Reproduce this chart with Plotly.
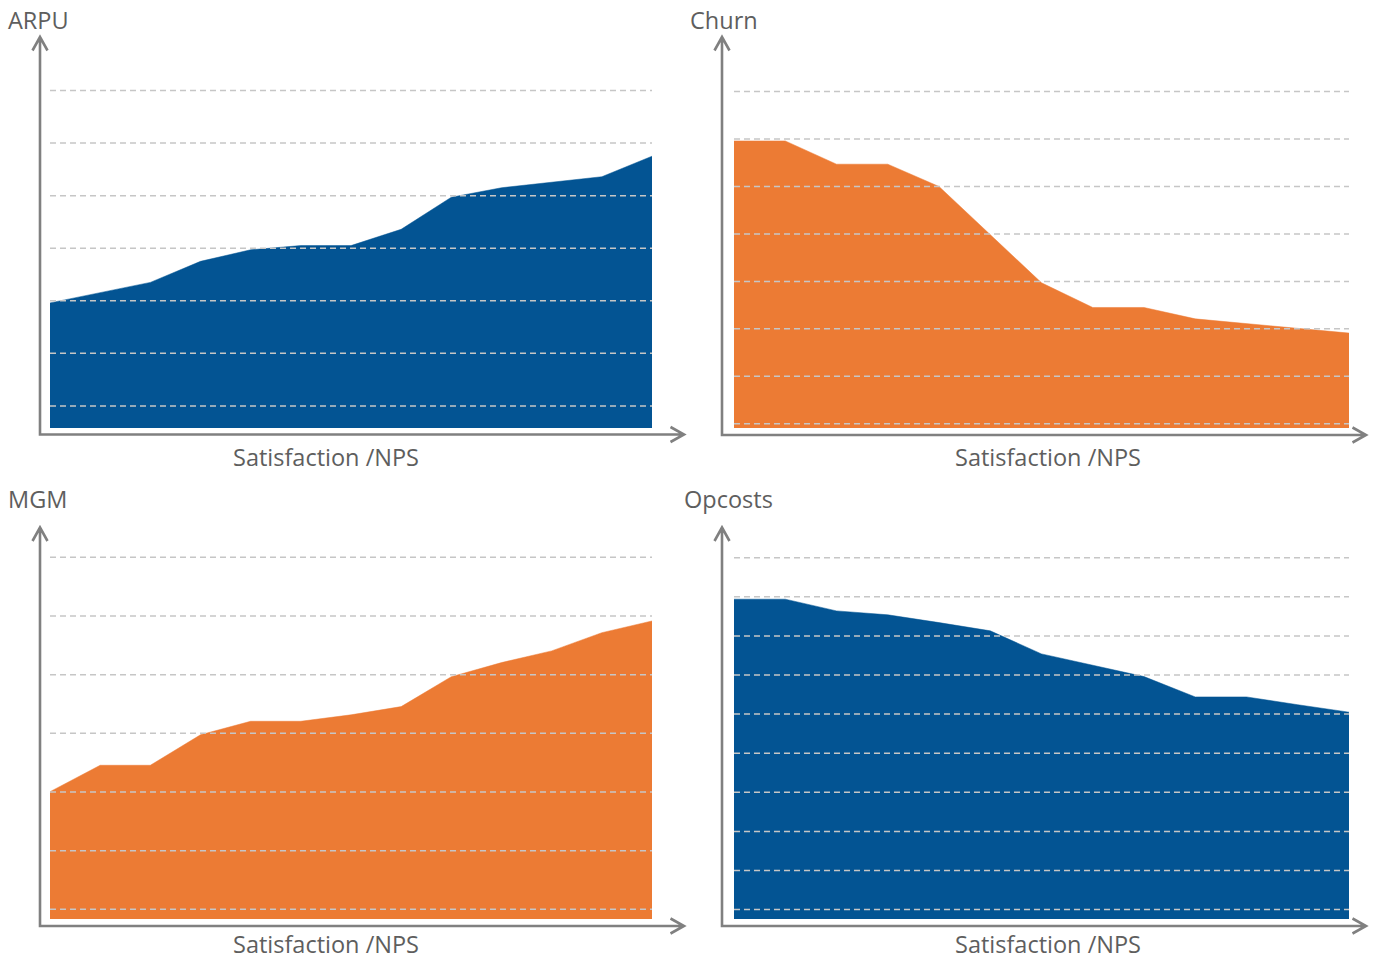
import plotly.graph_objects as go

# ---------------- data ----------------
x_points = list(range(13))  # satisfaction / NPS steps

arpu_values = [23.8, 25.7, 27.7, 31.7, 33.9, 34.7, 34.7, 37.8, 43.9, 45.7, 46.7, 47.8, 51.7]
churn_values = [60.5, 60.5, 55.6, 55.6, 50.9, 40.7, 30.6, 25.4, 25.4, 23.0, 22.0, 21.0, 20.0]
mgm_values = [21.7, 26.2, 26.2, 31.4, 33.7, 33.7, 34.8, 36.2, 41.3, 43.7, 45.7, 48.8, 50.8]
opcosts_values = [81.8, 81.8, 78.8, 77.8, 75.8, 73.7, 67.8, 64.9, 62.0, 56.8, 56.8, 54.8, 52.9]

arpu_grid = [4.2, 14.2, 24.2, 34.2, 44.2, 54.2, 64.2]
churn_grid = [0.9, 10.9, 20.9, 30.9, 40.9, 50.9, 60.9, 70.9]
mgm_grid = [1.65, 11.65, 21.65, 31.65, 41.65, 51.65, 61.65]
opcosts_grid = [2.4, 12.4, 22.4, 32.4, 42.4, 52.4, 62.4, 72.4, 82.4, 92.4]

titles = ["ARPU", "Churn", "MGM", "Opcosts"]
x_label = "Satisfaction /NPS"

BLUE = "#035493"
ORANGE = "#EC7B34"
AXIS = "#808080"
GRID = "#c6c6c6"
TEXT = "#5e5e5e"
FONT = "Open Sans"
FS = 23.5

W, H = 1381, 960

# panel geometry in pixels
panels = [
    dict(name=titles[0], vals=arpu_values, grid=arpu_grid, color=BLUE,
         yax_x=40, xax_y=434.5, ytip=37, xtip=684, left=50, right=652, base=428, ppu=5.257,
         title_pos=(6, 20), xlab_pos=(325.5, 457)),
    dict(name=titles[1], vals=churn_values, grid=churn_grid, color=ORANGE,
         yax_x=722, xax_y=435, ytip=37, xtip=1366, left=734, right=1349, base=428, ppu=4.745,
         title_pos=(688, 20), xlab_pos=(1048, 457)),
    dict(name=titles[2], vals=mgm_values, grid=mgm_grid, color=ORANGE,
         yax_x=40, xax_y=926, ytip=527.5, xtip=684, left=50, right=652, base=919, ppu=5.867,
         title_pos=(6, 499), xlab_pos=(325.5, 944)),
    dict(name=titles[3], vals=opcosts_values, grid=opcosts_grid, color=BLUE,
         yax_x=722, xax_y=926, ytip=527.5, xtip=1366, left=734, right=1349, base=919, ppu=3.91,
         title_pos=(682, 499), xlab_pos=(1048, 944)),
]

CHEV_HALF = 7.5   # chevron half width (px)
CHEV_LEN = 13.5   # chevron length (px)

fig = go.Figure()
layout = dict(
    width=W, height=H,
    margin=dict(l=0, r=0, t=0, b=0),
    paper_bgcolor="white", plot_bgcolor="rgba(0,0,0,0)",
    showlegend=False,
    font=dict(family=FONT, color=TEXT, size=FS),
)
annotations = []
shapes = []

for i, p in enumerate(panels):
    suffix = "" if i == 0 else str(i + 1)
    xa, ya = "x" + suffix, "y" + suffix
    n = len(x_points) - 1
    xppu = (p["right"] - p["left"]) / n
    xr = [-(p["left"] - p["yax_x"]) / xppu, n + (p["xtip"] - p["right"]) / xppu]
    yr = [-(p["xax_y"] - p["base"]) / p["ppu"], (p["base"] - p["ytip"]) / p["ppu"]]
    axis_common = dict(showgrid=False, zeroline=False, showticklabels=False,
                       showline=False, ticks="", fixedrange=True)
    layout["xaxis" + suffix] = dict(domain=[p["yax_x"] / W, p["xtip"] / W], range=xr,
                                    anchor=ya, **axis_common)
    layout["yaxis" + suffix] = dict(domain=[1 - p["xax_y"] / H, 1 - p["ytip"] / H], range=yr,
                                    anchor=xa, **axis_common)

    fig.add_trace(go.Scatter(
        x=x_points, y=p["vals"], mode="lines", fill="tozeroy",
        fillcolor=p["color"], line=dict(color=p["color"], width=0.5),
        xaxis=xa, yaxis=ya, hoverinfo="skip"))

    for g in p["grid"]:
        shapes.append(dict(type="line", xref=xa, yref=ya, x0=x_points[0], x1=x_points[-1],
                           y0=g, y1=g, layer="above",
                           line=dict(color=GRID, width=1.5, dash="6px,4px")))

    # axes with open chevron arrowheads, drawn in pixels from the origin corner
    h = p["xax_y"] - p["ytip"]
    w = p["xtip"] - p["yax_x"]
    path = (f"M{-CHEV_HALF},{h - CHEV_LEN} L0,{h} L{CHEV_HALF},{h - CHEV_LEN} "
            f"M0,{h} L0,0 L{w},0 "
            f"M{w - CHEV_LEN},{CHEV_HALF} L{w},0 L{w - CHEV_LEN},{-CHEV_HALF}")
    shapes.append(dict(type="path", xref=xa + " domain", yref=ya + " domain",
                       xsizemode="pixel", ysizemode="pixel", xanchor=0, yanchor=0,
                       path=path, layer="above",
                       line=dict(color=AXIS, width=2.6)))

    # title and axis label
    tx, ty = p["title_pos"]
    annotations.append(dict(xref="paper", yref="paper", x=tx / W, y=1 - ty / H,
                            xanchor="left", yanchor="middle", text=p["name"], showarrow=False,
                            font=dict(family=FONT, size=FS, color=TEXT)))
    lx, ly = p["xlab_pos"]
    annotations.append(dict(xref="paper", yref="paper", x=lx / W, y=1 - ly / H,
                            xanchor="center", yanchor="middle", text=x_label, showarrow=False,
                            font=dict(family=FONT, size=FS, color=TEXT)))

layout["annotations"] = annotations
layout["shapes"] = shapes
fig.update_layout(**layout)
fig.write_html("out.html", config={"displayModeBar": False},
               post_script="document.body.style.margin='0px';")
